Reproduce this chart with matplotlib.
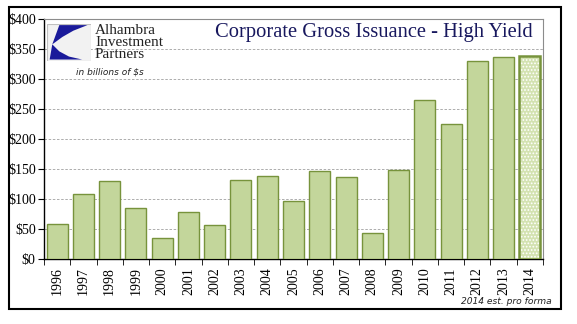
import numpy as np
import matplotlib.pyplot as plt
from matplotlib.patches import Rectangle, Polygon

years = ['1996', '1997', '1998', '1999', '2000', '2001', '2002', '2003', '2004', '2005',
         '2006', '2007', '2008', '2009', '2010', '2011', '2012', '2013', '2014']
issuance = [58, 108, 130, 85, 35, 78, 57, 132, 138, 96,
            147, 137, 43, 149, 265, 225, 330, 337, 339]
yticks = [0, 50, 100, 150, 200, 250, 300, 350, 400]

fill_col = '#c3d69b'
edge_col = '#77933c'
serif = 'Liberation Serif'

fig = plt.figure(figsize=(5.77, 3.24), dpi=100)
ax = fig.add_axes([44 / 577, 1 - 259 / 324, 499 / 577, 240 / 324])

x = np.arange(len(years))
# all bars except the estimated year
ax.bar(x[:-1], issuance[:-1], width=0.8, color=fill_col, edgecolor=edge_col,
       linewidth=1.0, zorder=3)
# 2014 estimate: dotted fill, heavier outline
plt.rcParams['hatch.linewidth'] = 0.8
ax.bar(x[-1], issuance[-1], width=0.8, color='#d3e2b0', edgecolor='white',
       hatch='.....', linewidth=0, zorder=3)
ax.bar(x[-1], issuance[-1], width=0.8, fill=False, edgecolor=edge_col,
       linewidth=1.8, zorder=4)

ax.set_xlim(-0.5, len(years) - 0.5)
ax.set_ylim(0, 400)
ax.set_yticks(yticks)
ax.set_yticklabels(['$%d' % v for v in yticks], fontfamily=serif, fontsize=10)
ax.set_xticks(x)
ax.set_xticklabels(years, rotation=90, fontfamily=serif, fontsize=10)
ax.tick_params(axis='x', length=0, pad=6)
ax.set_xticks(np.arange(-0.5, len(years)), minor=True)
ax.tick_params(axis='x', which='minor', length=4, direction='out', color='black')
ax.tick_params(axis='y', length=4, direction='out', color='black', pad=2)

ax.grid(axis='y', color='#a0a0a0', linestyle=(0, (3, 2)), linewidth=0.6, zorder=0)
for s in ['top', 'right']:
    ax.spines[s].set_color('#8c8c8c')
    ax.spines[s].set_linewidth(0.8)
for s in ['left', 'bottom']:
    ax.spines[s].set_color('black')
    ax.spines[s].set_linewidth(1.0)

# title and notes
fig.text(533 / 577, 1 - 32 / 324, 'Corporate Gross Issuance - High Yield',
         ha='right', va='center', fontfamily=serif, fontsize=14.8, color='#18185e')
fig.text(76 / 577, 1 - 72 / 324, 'in billions of $s', ha='left', va='center',
         fontfamily='DejaVu Sans', fontstyle='italic', fontsize=6.5, color='#222222')
fig.text(552 / 577, 1 - 302 / 324, '2014 est. pro forma', ha='right', va='center',
         fontfamily='DejaVu Sans', fontstyle='italic', fontsize=6.6, color='#222222')

# logo box
lax = fig.add_axes([47 / 577, 1 - 61 / 324, 44 / 577, 37 / 324])
lax.set_xlim(0, 1)
lax.set_ylim(0, 1)
lax.axis('off')
lax.add_patch(Rectangle((0, 0), 1, 1, facecolor='#f2f2f2', edgecolor='#c0c0c0', lw=0.8))
lax.add_patch(Polygon([(0.28, 0.97), (0.92, 0.97), (0.6, 0.82), (0.35, 0.65), (0.12, 0.45)],
                      closed=True, color='#1a1a9a', lw=0))
lax.add_patch(Polygon([(0.12, 0.45), (0.06, 0.04), (0.8, 0.04), (0.5, 0.12), (0.28, 0.26)],
                      closed=True, color='#1a1a9a', lw=0))
for i, word in enumerate(['Alhambra', 'Investment', 'Partners']):
    fig.text(95 / 577, 1 - (30 + 12.5 * i) / 324, word, ha='left', va='center',
             fontfamily=serif, fontsize=11, color='#222222')

# outer frame
fig.add_artist(Rectangle((9 / 577, 1 - 309 / 324), 552 / 577, 302 / 324,
                         transform=fig.transFigure, fill=False, edgecolor='black', lw=1.5))

fig.savefig('out.png', dpi=100)
